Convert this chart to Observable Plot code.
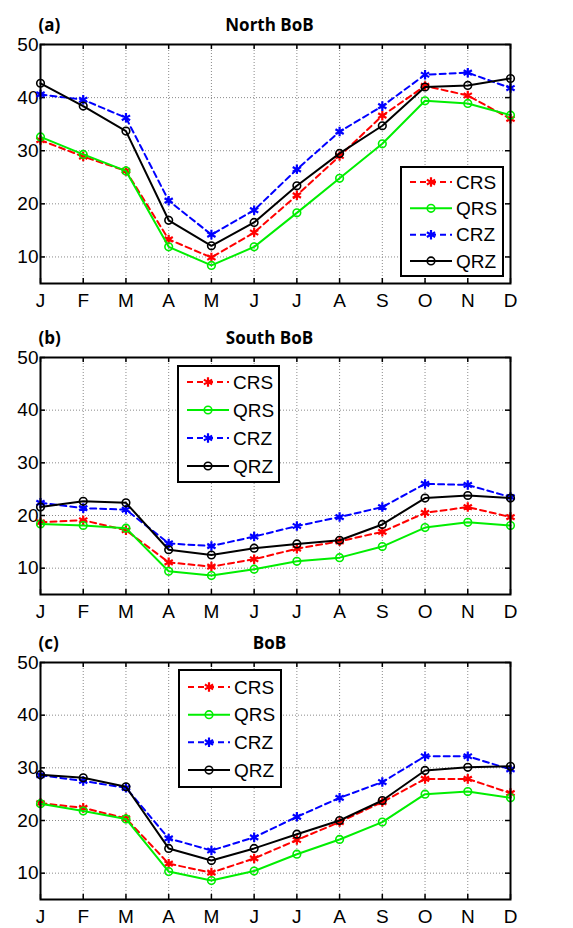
<!DOCTYPE html>
<html>
<head>
<meta charset="utf-8">
<script src="https://cdn.jsdelivr.net/npm/d3@7"></script>
<script src="https://cdn.jsdelivr.net/npm/@observablehq/plot@0.6"></script>
<style>
  html, body { margin: 0; padding: 0; background: #fff; }
  svg { display: block; }
</style>
</head>
<body>
<div id="chart"></div>
<script>
// ---------- data ----------
const months = ["J","F","M","A","M","J","J","A","S","O","N","D"];
const yTicks = [10, 20, 30, 40, 50];
const seriesNames = ["CRS", "QRS", "CRZ", "QRZ"];

const northCRS = [32.0, 28.9, 26.2, 13.3, 9.9, 14.6, 21.6, 29.0, 36.6, 42.2, 40.4, 36.0];
const northQRS = [32.6, 29.3, 26.2, 11.9, 8.4, 11.9, 18.3, 24.8, 31.3, 39.4, 38.9, 36.7];
const northCRZ = [40.6, 39.6, 36.2, 20.6, 14.2, 18.8, 26.5, 33.6, 38.4, 44.3, 44.7, 41.8];
const northQRZ = [42.7, 38.4, 33.7, 16.9, 12.1, 16.5, 23.4, 29.5, 34.7, 42.0, 42.3, 43.6];

const southCRS = [18.7, 19.1, 17.2, 11.1, 10.3, 11.7, 13.7, 15.1, 16.9, 20.5, 21.6, 19.7];
const southQRS = [18.4, 18.1, 17.6, 9.4, 8.6, 9.8, 11.3, 12.0, 14.1, 17.7, 18.7, 18.1];
const southCRZ = [22.4, 21.4, 21.1, 14.7, 14.2, 16.0, 18.0, 19.7, 21.6, 26.0, 25.8, 23.5];
const southQRZ = [21.6, 22.7, 22.4, 13.5, 12.5, 13.8, 14.6, 15.3, 18.3, 23.3, 23.8, 23.3];

const bobCRS = [23.3, 22.4, 20.4, 11.8, 10.1, 12.8, 16.3, 19.7, 23.5, 27.9, 27.9, 25.2];
const bobQRS = [23.2, 21.8, 20.3, 10.3, 8.6, 10.4, 13.6, 16.4, 19.7, 25.0, 25.5, 24.3];
const bobCRZ = [28.6, 27.5, 26.2, 16.6, 14.3, 16.8, 20.7, 24.3, 27.3, 32.2, 32.2, 29.7];
const bobQRZ = [28.7, 28.1, 26.4, 14.7, 12.4, 14.7, 17.4, 20.0, 23.8, 29.5, 30.1, 30.3];

// ---------- styles ----------
const styles = {
  CRS: {color: "#ff0000", dash: "6,4", symbol: "asterisk"},
  QRS: {color: "#00ee00", dash: null, symbol: "circle"},
  CRZ: {color: "#0000ff", dash: "6,4", symbol: "asterisk"},
  QRZ: {color: "#000000", dash: null, symbol: "circle"}
};

const panels = [
  {tag: "(a)", title: "North BoB", series: [northCRS, northQRS, northCRZ, northQRZ],
   height: 312, marginTop: 44, marginBottom: 29,
   legend: {left: 401, top: 167, w: 102, h: 109, step: 26.3}},
  {tag: "(b)", title: "South BoB", series: [southCRS, southQRS, southCRZ, southQRZ],
   height: 310, marginTop: 45, marginBottom: 28,
   legend: {left: 178, top: 54, w: 101, h: 116, step: 28}},
  {tag: "(c)", title: "BoB", series: [bobCRS, bobQRS, bobCRZ, bobQRZ],
   height: 306, marginTop: 40, marginBottom: 29,
   legend: {left: 179, top: 48, w: 102, h: 117, step: 27.7}}
];

const W = 573, ML = 40, MR = 63;
const FONT = "'Liberation Sans', Arial, sans-serif";
const monthIdx = months.map((_, i) => i);

function legendMark(L) {
  return (index, scales, values, dims) => {
    const g = d3.create("svg:g");
    g.append("rect")
      .attr("x", L.left).attr("y", L.top).attr("width", L.w).attr("height", L.h)
      .attr("fill", "white").attr("stroke", "black").attr("stroke-width", 2);
    const first = L.top + L.h / 2 - 1.5 * L.step;
    seriesNames.forEach((name, i) => {
      const s = styles[name];
      const cy = first + i * L.step;
      g.append("line")
        .attr("x1", L.left + 9).attr("x2", L.left + 51)
        .attr("y1", cy).attr("y2", cy)
        .attr("stroke", s.color).attr("stroke-width", 2)
        .attr("stroke-dasharray", s.dash);
      if (s.symbol === "asterisk") {
        g.append("path")
          .attr("transform", `translate(${L.left + 30},${cy})`)
          .attr("d", d3.symbol(d3.symbolAsterisk, Math.PI * 4.5 * 4.5)())
          .attr("stroke", s.color).attr("stroke-width", 2.2).attr("fill", "none");
      } else {
        g.append("circle")
          .attr("cx", L.left + 30).attr("cy", cy).attr("r", 3.8)
          .attr("stroke", s.color).attr("stroke-width", 1.6).attr("fill", "none");
      }
      g.append("text")
        .attr("x", L.left + 55).attr("y", cy).attr("dy", "0.36em")
        .attr("text-anchor", "start")
        .style("text-anchor", "start")
        .style("font-family", FONT).style("font-size", "19px")
        .attr("fill", "black")
        .text(name);
    });
    return g.node();
  };
}

const chart = document.getElementById("chart");

for (const p of panels) {
  const plotH = p.height - p.marginTop - p.marginBottom;
  const tickLenY = (50 - 5) * 5 / plotH;           // 5px in y data units
  const tickLenX = 11 * 5 / (W - ML - MR);         // 5px in x data units

  const marks = [
    Plot.ruleX(monthIdx, {x: d => d, stroke: "#8a8a8a", strokeWidth: 1, strokeDasharray: "1,2"}),
    Plot.ruleY(yTicks.filter(v => v < 50), {y: d => d, stroke: "#8a8a8a", strokeWidth: 1, strokeDasharray: "1,2"}),
    // inward ticks
    Plot.ruleX(monthIdx, {x: d => d, y1: 5, y2: 5 + tickLenY, stroke: "black", strokeWidth: 1.5}),
    Plot.ruleX(monthIdx, {x: d => d, y1: 50 - tickLenY, y2: 50, stroke: "black", strokeWidth: 1.5}),
    Plot.ruleY(yTicks, {y: d => d, x1: 0, x2: tickLenX, stroke: "black", strokeWidth: 1.5}),
    Plot.ruleY(yTicks, {y: d => d, x1: 11 - tickLenX, x2: 11, stroke: "black", strokeWidth: 1.5})
  ];

  p.series.forEach((vals, i) => {
    const s = styles[seriesNames[i]];
    const data = vals.map((v, j) => ({m: j, v}));
    marks.push(Plot.line(data, {x: "m", y: "v", stroke: s.color, strokeWidth: 2, strokeDasharray: s.dash}));
    if (s.symbol === "asterisk") {
      marks.push(Plot.dot(data, {x: "m", y: "v", symbol: "asterisk", r: 4.5, stroke: s.color, strokeWidth: 2.2, fill: "none"}));
    } else {
      marks.push(Plot.dot(data, {x: "m", y: "v", symbol: "circle", r: 3.8, stroke: s.color, strokeWidth: 1.6, fill: "none"}));
    }
  });

  marks.push(Plot.frame({stroke: "black", strokeWidth: 2}));
  marks.push(legendMark(p.legend));
  marks.push(Plot.text([p.tag], {text: d => d, frameAnchor: "top-left", textAnchor: "start", dx: -2, dy: -26,
    fontWeight: "bold", fontSize: 17, fontFamily: "Open Sans, sans-serif", fill: "black"}));
  marks.push(Plot.text([p.title], {text: d => d, frameAnchor: "top", dx: -6, dy: -26,
    fontWeight: "bold", fontSize: 17, fontFamily: "Open Sans, sans-serif", fill: "black"}));

  const svg = Plot.plot({
    width: W,
    height: p.height,
    marginLeft: ML,
    marginRight: MR,
    marginTop: p.marginTop,
    marginBottom: p.marginBottom,
    style: {fontFamily: FONT, fontSize: "19px", color: "black", background: "white", overflow: "visible"},
    x: {domain: [0, 11], ticks: monthIdx, tickFormat: i => months[i], tickSize: 0, tickPadding: 10, label: null},
    y: {domain: [5, 50], ticks: yTicks, tickSize: 0, tickPadding: 2, label: null},
    marks
  });
  chart.appendChild(svg);
}
</script>
</body>
</html>
